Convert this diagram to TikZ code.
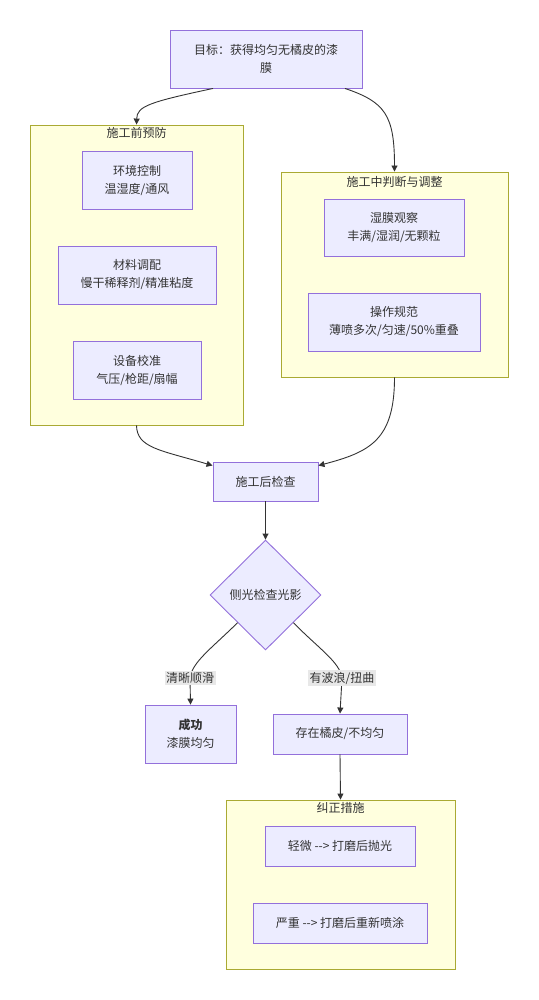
\documentclass[tikz,border=0pt]{standalone}
\usepackage{fontspec}
\setmainfont{Noto Sans CJK SC}[Ligatures=TeXOff]
\usepackage{xcolor}
\usetikzlibrary{shapes.geometric,arrows.meta}
\definecolor{boxfill}{HTML}{ECECFF}
\definecolor{boxline}{HTML}{9370DB}
\definecolor{clfill}{HTML}{FFFFDE}
\definecolor{clline}{HTML}{AAAA33}
\definecolor{inkc}{HTML}{333333}
\definecolor{lblfill}{HTML}{E8E8E8}
\tikzset{
  box/.style={draw=boxline, fill=boxfill, line width=0.9pt, text=inkc, align=center, inner sep=0pt},
  cluster/.style={draw=clline, fill=clfill, line width=0.9pt, inner sep=0pt},
  cltitle/.style={text=inkc, inner sep=1pt},
  decision/.style={diamond, draw=boxline, fill=boxfill, line width=0.9pt, text=inkc, inner sep=0pt, minimum width=111pt, minimum height=110pt},
  edge/.style={draw=inkc, line width=0.9pt, -{Triangle[length=6pt,width=6pt]}},
  elabel/.style={fill=lblfill, text=inkc, inner sep=1.5pt}
}
\begin{document}
\begin{tikzpicture}[x=1pt, y=-1pt, font=\fontsize{12}{18}\selectfont]
\useasboundingbox (0,0) rectangle (538,1000);
\node[box, minimum width=192pt, minimum height=58pt] (goal) at (266,59) {目标：获得均匀无橘皮的漆\\膜};

\node[cluster, minimum width=213pt, minimum height=300pt] (pre) at (136.5,275) {};
\node[cltitle] (pretitle) at (136.5,133) {施工前预防};
\node[box, minimum width=110pt, minimum height=58pt] (env) at (137,180) {环境控制\\温湿度/通风};
\node[box, minimum width=158pt, minimum height=58pt] (mat) at (137,275) {材料调配\\慢干稀释剂/精准粘度};
\node[box, minimum width=128pt, minimum height=58pt] (dev) at (137,370) {设备校准\\气压/枪距/扇幅};

\node[cluster, minimum width=227pt, minimum height=205pt] (mid) at (394.5,274.5) {};
\node[cltitle] (midtitle) at (394.5,182) {施工中判断与调整};
\node[box, minimum width=140pt, minimum height=57pt] (wet) at (394,227.5) {湿膜观察\\丰满/湿润/无颗粒};
\node[box, minimum width=172pt, minimum height=58pt] (op) at (394,322) {操作规范\\薄喷多次/匀速/50\%重叠};

\node[box, minimum width=105pt, minimum height=39pt] (check) at (265.5,481.5) {施工后检查};
\node[decision] (diam) at (265.5,595) {侧光检查光影};
\node[box, minimum width=91pt, minimum height=58pt] (ok) at (190.5,734) {\textbf{成功}\\漆膜均匀};
\node[box, minimum width=134pt, minimum height=40pt] (bad) at (340,734) {存在橘皮/不均匀};

\node[cluster, minimum width=229pt, minimum height=169pt] (fix) at (340.5,884.5) {};
\node[cltitle] (fixtitle) at (340.5,808) {纠正措施};
\node[box, minimum width=150pt, minimum height=40pt] (light) at (340,846) {轻微 --> 打磨后抛光};
\node[box, minimum width=174pt, minimum height=40pt] (heavy) at (340,923) {严重 --> 打磨后重新喷涂};

\coordinate (okpt) at (190,678);
\coordinate (badpt) at (342,678);

\draw[edge] ([xshift=-53pt]goal.south) .. controls (150,102) and (137,106) .. (pre.north);
\draw[edge] ([xshift=79pt]goal.south) .. controls (385,102) and (394.5,115) .. (mid.north);
\draw[edge] (pre.south) .. controls (137,448) and (160,450) .. ([yshift=-4pt]check.north west);
\draw[edge] (mid.south) .. controls (394.5,440) and (370,452) .. ([yshift=-4pt]check.north east);
\draw[edge] (check.south) -- (diam.north);
\draw[edge] (diam.south west) .. controls (212,648) and (192,662) .. (okpt) -- (ok.north);
\draw[edge] (diam.south east) .. controls (318,648) and (340,662) .. (badpt) -- (bad.north);
\draw[edge] (bad.south) -- (fix.north);

\node[elabel] (oklbl) at (okpt) {清晰顺滑};
\node[elabel] (badlbl) at (badpt) {有波浪/扭曲};
\end{tikzpicture}
\end{document}
